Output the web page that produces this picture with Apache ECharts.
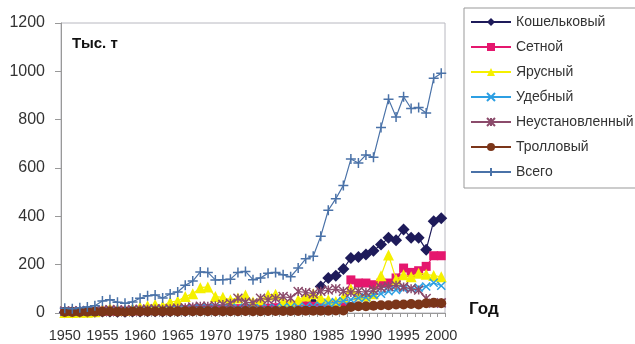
<!DOCTYPE html>
<html>
<head>
<meta charset="utf-8">
<script src="https://cdn.jsdelivr.net/npm/echarts@6/dist/echarts.min.js"></script>
<style>
  html, body { margin: 0; padding: 0; background: #fff; }
  #chart { width: 635px; height: 344px; }
</style>
</head>
<body>
<div id="chart"></div>
<script>
// Годы 1950–2000
const years = [];
for (let y = 1950; y <= 2000; y++) years.push(String(y));

// Вылов по типам промысла, тыс. т
const koshelkovy = [
  3, 3, 4, 4, 5, 6, 6, 5, 5, 6,
  6, 7, 7, 6, 7, 8, 8, 9, 10, 10,
  9, 9, 10, 10, 11, 10, 11, 12, 12, 14,
  15, 20, 28, 40, 110, 145, 154, 182, 228, 232,
  242, 258, 283, 311, 301, 346, 311, 311, 262, 380,
  392
];
const setnoy = [
  4, 4, 5, 5, 6, 8, 9, 8, 8, 9,
  10, 10, 11, 10, 11, 12, 14, 16, 18, 18,
  16, 16, 17, 18, 18, 17, 18, 20, 22, 22,
  25, 28, 30, 28, 25, 35, 32, 42, 137, 124,
  124, 117, 124, 124, 145, 186, 168, 175, 193, 237,
  237
];
const yarusny = [
  2, 2, 3, 3, 5, 15, 20, 15, 12, 18,
  25, 30, 35, 30, 45, 50, 68, 80, 105, 108,
  68, 65, 55, 62, 75, 47, 55, 75, 78, 50,
  42, 55, 70, 80, 62, 55, 48, 65, 100, 75,
  70, 80, 154, 240, 140, 158, 150, 165, 160, 155,
  150
];
const udebny = [
  5, 5, 6, 6, 7, 10, 12, 11, 10, 12,
  13, 14, 15, 14, 15, 16, 18, 20, 22, 22,
  20, 20, 21, 22, 22, 20, 21, 22, 23, 24,
  24, 25, 26, 28, 30, 40, 45, 50, 55, 62,
  65, 75, 80, 90, 95, 100, 100, 105, 110, 125,
  113
];
const neustanovl = [
  8, 8, 9, 10, 10, 12, 14, 13, 12, 14,
  15, 16, 17, 16, 18, 20, 22, 25, 28, 28,
  30, 35, 40, 61, 45, 42, 61, 55, 60, 68,
  62, 89, 85, 80, 90, 95, 100, 90, 85, 90,
  85, 95, 105, 110, 115, 108, 100, 95, 60, 40,
  42
];
const trollovy = [
  4, 4, 4, 5, 5, 5, 6, 5, 5, 6,
  6, 6, 6, 6, 6, 6, 7, 7, 7, 7,
  7, 7, 7, 7, 8, 7, 7, 8, 8, 8,
  8, 8, 9, 9, 9, 9, 10, 10, 25, 28,
  28, 30, 32, 32, 35, 35, 37, 35, 40, 42,
  40
];
const vsego = [
  20, 18, 22, 25, 30, 50, 55, 45, 40, 46,
  61, 71, 75, 62, 79, 87, 115, 132, 170, 168,
  137, 138, 140, 168, 172, 138, 145, 165, 168, 158,
  150, 186, 224, 235, 318, 425, 473, 528, 637, 621,
  654, 645, 768, 885, 811, 895, 846, 850, 828, 971,
  992
];

// Подписи оси Y
const yTicks = [0, 200, 400, 600, 800, 1000, 1200];

const SYM_X = 'path://M0,0L10,10M10,0L0,10';
const SYM_AST = 'path://M0,0L10,10M10,0L0,10M5,0L5,10';
const SYM_PLUS = 'path://M5,0L5,10M0,5L10,5';
const FONT = 'Liberation Sans, Arial, sans-serif';

function lineSeries(name, data, color, symbol, size, stroke, z) {
  const s = {
    name: name,
    type: 'line',
    data: data,
    symbol: symbol,
    symbolSize: size,
    showAllSymbol: true,
    z: z,
    lineStyle: { color: color, width: 1.2 },
    itemStyle: { color: color },
    emphasis: { disabled: true },
    animation: false
  };
  if (stroke) {
    s.itemStyle = { color: 'none', borderColor: color, borderWidth: 1.5 };
  }
  return s;
}

const chart = echarts.init(document.getElementById('chart'), null, { renderer: 'canvas' });

chart.setOption({
  backgroundColor: '#ffffff',
  animation: false,
  grid: {
    left: 61, right: 190, top: 23, bottom: 31,
    show: true, borderColor: '#b8b8c0', borderWidth: 1, backgroundColor: 'transparent'
  },
  xAxis: {
    type: 'category',
    data: years,
    boundaryGap: true,
    axisLine: { show: true, lineStyle: { color: '#999', width: 1 } },
    axisTick: { show: true, interval: 0, length: 4, lineStyle: { color: '#999' } },
    axisLabel: {
      interval: 4, margin: 15,
      fontFamily: FONT, fontSize: 14.5, color: '#333'
    },
    splitLine: { show: false }
  },
  yAxis: {
    type: 'value',
    min: yTicks[0], max: yTicks[yTicks.length - 1], interval: 200,
    axisLine: { show: true, lineStyle: { color: '#999', width: 1 } },
    axisTick: { show: true, length: 6, lineStyle: { color: '#999' } },
    axisLabel: {
      margin: 16,
      formatter: function (v) { return String(v); },
      fontFamily: FONT, fontSize: 16, color: '#333'
    },
    splitLine: { show: false }
  },
  legend: {
    orient: 'vertical',
    left: 464, top: 8,
    padding: [6, 8, 8, 6],
    backgroundColor: '#fff',
    borderColor: '#999',
    borderWidth: 1,
    itemWidth: 40,
    itemHeight: 10,
    itemGap: 9,
    textStyle: {
      fontFamily: FONT, fontSize: 14, color: '#333', lineHeight: 16
    },
    data: ['Кошельковый', 'Сетной', 'Ярусный', 'Удебный', 'Неустановленный', 'Тролловый', 'Всего']
  },
  graphic: [
    {
      type: 'text', left: 72, top: 36,
      style: { text: 'Тыс. т', fontFamily: FONT, fontSize: 15, fontWeight: 'bold', fill: '#111' }
    },
    {
      type: 'text', left: 469, top: 301,
      style: { text: 'Год', fontFamily: FONT, fontSize: 17, fontWeight: 'bold', fill: '#111' }
    }
  ],
  series: [
    lineSeries('Кошельковый', koshelkovy, '#1e1b5a', 'diamond', 12, false, 2),
    lineSeries('Сетной', setnoy, '#e5176e', 'rect', 9, false, 3),
    lineSeries('Ярусный', yarusny, '#f5f000', 'triangle', 11, false, 4),
    lineSeries('Удебный', udebny, '#2c9fe3', SYM_X, 8, true, 5),
    lineSeries('Неустановленный', neustanovl, '#8b4b6b', SYM_AST, 9, true, 6),
    lineSeries('Тролловый', trollovy, '#7b3519', 'circle', 10, false, 7),
    lineSeries('Всего', vsego, '#4a72a8', SYM_PLUS, 10, true, 8)
  ]
});
</script>
</body>
</html>
